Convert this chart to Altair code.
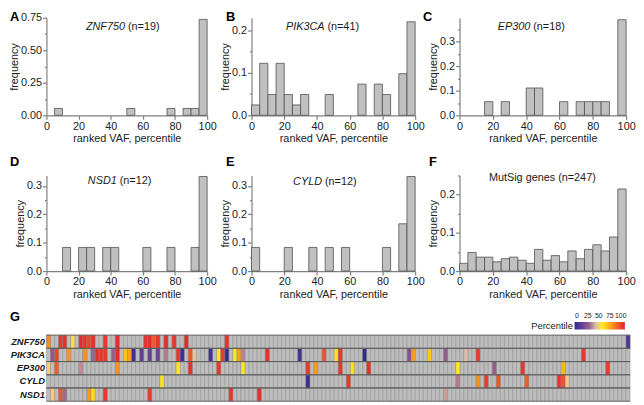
import altair as alt
import pandas as pd

FONT = "Liberation Sans"

# ---------------- histogram data (counts per 5-percentile bin) ----------------
BIN_STARTS = list(range(0, 100, 5))
ZNF750_COUNTS = [0, 1, 0, 0, 0, 0, 0, 0, 0, 0, 1, 0, 0, 0, 0, 1, 0, 1, 1, 14]
PIK3CA_COUNTS = [1, 5, 2, 5, 2, 1, 2, 0, 0, 2, 0, 0, 0, 3, 0, 3, 2, 0, 4, 9]
EP300_COUNTS = [0, 0, 0, 1, 0, 1, 0, 0, 2, 2, 0, 0, 1, 0, 1, 1, 1, 1, 0, 7]
NSD1_COUNTS = [0, 0, 1, 0, 1, 1, 0, 1, 1, 0, 0, 0, 1, 0, 0, 1, 0, 0, 1, 4]
CYLD_COUNTS = [1, 0, 0, 0, 1, 0, 0, 1, 0, 1, 0, 1, 0, 0, 0, 0, 1, 0, 2, 4]
MUTSIG_COUNTS = [5, 12, 9, 9, 6, 8, 9, 7, 5, 14, 7, 10, 6, 13, 8, 14, 17, 13, 22, 53]

# ---------------- heatmap data (sample column -> VAF percentile) ----------------
N_SAMPLES = 144
GENES = ["ZNF750", "PIK3CA", "EP300", "CYLD", "NSD1"]
ZNF750_COLS = [0, 3, 4, 6, 8, 9, 10, 11, 14, 17, 24, 25, 26, 27, 29, 31, 34, 44, 143]
ZNF750_VALS = [77, 96, 97, 52, 98, 96, 92, 97, 96, 98, 97, 98, 87, 96, 97, 96, 98, 97, 8]
PIK3CA_COLS = [1, 2, 5, 9, 11, 12, 13, 14, 16, 17, 19, 20, 21, 23, 25, 27, 29, 32, 33, 35,
               36, 40, 42, 43, 44, 46, 47, 48, 54, 62, 68, 71, 72, 78, 89, 90, 94, 98, 103, 106, 132]
PIK3CA_VALS = [24, 93, 75, 76, 28, 97, 96, 95, 27, 98, 64, 72, 4, 14, 15, 16, 33, 96, 3, 88,
               44, 5, 56, 95, 2, 55, 73, 34, 97, 6, 89, 57, 96, 1, 22, 74, 63, 26, 42, 95, 96]
EP300_COLS = [0, 2, 8, 17, 32, 35, 42, 48, 64, 66, 72, 75, 79, 101, 110, 117, 127, 138]
EP300_VALS = [48, 86, 35, 76, 55, 97, 96, 56, 95, 74, 96, 57, 97, 55, 26, 96, 66, 95]
CYLD_COLS = [28, 64, 74, 101, 106, 108, 111, 118, 126, 127, 128]
CYLD_VALS = [56, 3, 96, 33, 76, 95, 88, 87, 96, 90, 46]
NSD1_COLS = [1, 3, 4, 10, 11, 14, 25, 45, 52, 98]
NSD1_VALS = [47, 88, 30, 74, 58, 96, 95, 96, 97, 38]

# colour map (percentile stops)
CMAP_STOPS = [0, 15, 30, 42, 55, 72, 88, 100]
CMAP_COLORS = ["#2b2b8f", "#653f97", "#9c6a8e", "#dcbfa8", "#ffea1f", "#fba41e", "#f0542a", "#e3212b"]
LEGEND_TICKS = [0, 25, 50, 75, 100]

BAR_FILL = "#c0c0c0"
BAR_STROKE = "#505050"
TXT = "#1a1a1a"


def hist_panel(counts, n, ymax, major, minor, fmt, width, height,
               gene, rest, gene_dx, title_y, letter, letter_x, letter_y):
    df = pd.DataFrame({"b0": BIN_STARTS, "count": counts})
    df["b1"] = df["b0"] + 5
    df["freq"] = df["count"] / n
    df = df[df["count"] > 0]
    nt = int(ymax / minor + 1e-6)
    yvals = [round(i * minor, 5) for i in range(nt + 1)]
    ytest = f"abs(datum.value / {major} - round(datum.value / {major})) < 1e-6"
    yaxis = alt.Axis(values=yvals, format=fmt, labelExpr=f"{ytest} ? datum.label : ''",
                     tickSize={"condition": {"test": ytest, "value": 4}, "value": 2},
                     title="frequency", titlePadding=1, labelPadding=1,
                     labelFlush=False, labelOverlap=False)
    xaxis = alt.Axis(values=list(range(0, 101, 20)), tickSize=4,
                     title="ranked VAF, percentile", labelPadding=1, titlePadding=2,
                     labelFlush=False, labelOverlap=False)
    bars = alt.Chart(df).mark_rect(fill=BAR_FILL, stroke=BAR_STROKE, strokeWidth=0.8).encode(
        x=alt.X("b0:Q", scale=alt.Scale(domain=[0, 100], nice=False, zero=False), axis=xaxis),
        x2="b1:Q",
        y=alt.Y("freq:Q", scale=alt.Scale(domain=[0, ymax], nice=False), axis=yaxis),
        y2=alt.datum(0),
    )
    layers = [bars]
    if gene:
        layers.append(alt.Chart(pd.DataFrame({"t": [gene]})).mark_text(
            align="right", baseline="alphabetic", font=FONT, fontSize=11, fontStyle="italic", color=TXT
        ).encode(text="t:N", x=alt.value(width / 2 + gene_dx), y=alt.value(title_y)))
        layers.append(alt.Chart(pd.DataFrame({"t": [rest]})).mark_text(
            align="left", baseline="alphabetic", font=FONT, fontSize=11, color=TXT
        ).encode(text="t:N", x=alt.value(width / 2 + gene_dx + 3), y=alt.value(title_y)))
    else:
        layers.append(alt.Chart(pd.DataFrame({"t": [rest]})).mark_text(
            align="center", baseline="alphabetic", font=FONT, fontSize=11, color=TXT
        ).encode(text="t:N", x=alt.value(width / 2 + gene_dx), y=alt.value(title_y)))
    layers.append(alt.Chart(pd.DataFrame({"t": [letter]})).mark_text(
        align="left", baseline="top", font=FONT, fontSize=13, fontWeight="bold", color="#000"
    ).encode(text="t:N", x=alt.value(letter_x), y=alt.value(letter_y)))
    return alt.layer(*layers).properties(width=width, height=height)


WA, WB, WC = 163, 166, 169
H1, H2 = 99, 97

A = hist_panel(ZNF750_COUNTS, 19, 0.75, 0.25, 0.125, ".2f", WA, H1,
               "ZNF750", "(n=19)", -1.8, 12, "A", -37, -7)
B = hist_panel(PIK3CA_COUNTS, 41, 0.229, 0.1, 0.05, ".1f", WB, H1,
               "PIK3CA", "(n=41)", -9, 12, "B", -26, -7)
C = hist_panel(EP300_COUNTS, 18, 0.397, 0.1, 0.05, ".1f", WC, H1,
               "EP300", "(n=18)", -12.8, 12, "C", -37, -7)
D = hist_panel(NSD1_COUNTS, 12, 0.337, 0.1, 0.05, ".1f", WA, H2,
               "NSD1", "(n=12)", -10.2, 8.7, "D", -37, -20)
E = hist_panel(CYLD_COUNTS, 12, 0.337, 0.1, 0.05, ".1f", WB, H2,
               "CYLD", "(n=12)", -11.5, 9.3, "E", -26, -20)
F = hist_panel(MUTSIG_COUNTS, 247, 0.25, 0.1, 0.05, ".1f", WC, H2,
               None, "MutSig genes (n=247)", -0.5, 5.5, "F", -31, -20)

# ---------------- heatmap ----------------
bg = pd.DataFrame([(g, c) for g in GENES for c in range(N_SAMPLES)], columns=["gene", "col"])
rows = []
for g, cols, vals in [("ZNF750", ZNF750_COLS, ZNF750_VALS), ("PIK3CA", PIK3CA_COLS, PIK3CA_VALS),
                      ("EP300", EP300_COLS, EP300_VALS), ("CYLD", CYLD_COLS, CYLD_VALS),
                      ("NSD1", NSD1_COLS, NSD1_VALS)]:
    for c, v in zip(cols, vals):
        rows.append((g, c, v))
cells = pd.DataFrame(rows, columns=["gene", "col", "v"])

HM_W, HM_H = 592, 67
xs = alt.X("col:O", scale=alt.Scale(domain=list(range(N_SAMPLES)), paddingInner=0, paddingOuter=0), axis=None)
ys = alt.Y("gene:N", sort=GENES, scale=alt.Scale(domain=GENES, paddingInner=0, paddingOuter=0),
           axis=alt.Axis(title=None, domain=False, ticks=False, labelFont=FONT, labelFontSize=9.5,
                         labelFontStyle="italic", labelFontWeight="bold", labelPadding=2, labelColor=TXT))

hm_bg = alt.Chart(bg).mark_rect(fill="#bdbdbd", stroke="#8c8c8c", strokeWidth=0.5).encode(x=xs, y=ys)
hm_cells = alt.Chart(cells).mark_rect(stroke="#8c8c8c", strokeWidth=0.4).encode(
    x=xs, y=ys,
    color=alt.Color("v:Q", scale=alt.Scale(domain=CMAP_STOPS, range=CMAP_COLORS), legend=None),
)
rule_df = pd.DataFrame({"gene": GENES})
rules_top = alt.Chart(rule_df).mark_rule(color="#5a5a5a", strokeWidth=0.8).encode(
    y=alt.Y("gene:N", sort=GENES, bandPosition=0))
rules_bot = alt.Chart(rule_df).mark_rule(color="#5a5a5a", strokeWidth=0.8).encode(
    y=alt.Y("gene:N", sort=GENES, bandPosition=1))
g_letter = alt.Chart(pd.DataFrame({"t": ["G"]})).mark_text(
    align="left", baseline="top", font=FONT, fontSize=13, fontWeight="bold", color="#000"
).encode(text="t:N", x=alt.value(-37), y=alt.value(-24))

# colour key (gradient bar + labels above, title to the left)
LEG_X0, LEG_X1, LEG_Y0, LEG_Y1 = 535.7, 586.7, -13.3, -5.7
grad = alt.LinearGradient(
    gradient="linear", x1=0, x2=1, y1=0, y2=0,
    stops=[alt.GradientStop(offset=s / 100, color=c) for s, c in zip(CMAP_STOPS, CMAP_COLORS)])
leg_bar = alt.Chart(pd.DataFrame({"k": [0]})).mark_rect(fill=grad).encode(
    x=alt.value(LEG_X0), x2=alt.value(LEG_X1), y=alt.value(LEG_Y0), y2=alt.value(LEG_Y1))
leg_lab = alt.Chart(pd.DataFrame({"v": LEGEND_TICKS})).mark_text(
    font=FONT, fontSize=7, color=TXT, baseline="alphabetic", align="center").encode(
    x=alt.X("v:Q", scale=alt.Scale(domain=[0, 100], range=[538.0, 582.5]), axis=None),
    y=alt.value(-17.5), text="v:Q")
leg_title = alt.Chart(pd.DataFrame({"t": ["Percentile"]})).mark_text(
    font=FONT, fontSize=9.5, color=TXT, baseline="alphabetic", align="right").encode(
    x=alt.value(534), y=alt.value(-6.3), text="t:N")

H = alt.layer(hm_bg, hm_cells, rules_top, rules_bot, g_letter, leg_bar, leg_lab, leg_title).resolve_scale(
    x="independent").properties(width=HM_W, height=HM_H)

row1 = alt.hconcat(A, B, C, spacing=45, bounds="flush")
row2 = alt.hconcat(D, E, F, spacing=45, bounds="flush")
top_rows = alt.vconcat(row1, row2, spacing=12)

chart = alt.vconcat(
    top_rows, H, spacing=12
).properties(padding=0).configure(font=FONT).configure_view(
    stroke=None
).configure_axis(
    labelFont=FONT, titleFont=FONT, labelFontSize=11, titleFontSize=11, titleFontWeight="normal",
    labelColor="#222", titleColor="#222", domainColor="#808080", tickColor="#808080",
    domainWidth=1.2, tickWidth=1.2, grid=False
)

chart.save("out.html", embed_options={"renderer": "svg", "actions": False})
